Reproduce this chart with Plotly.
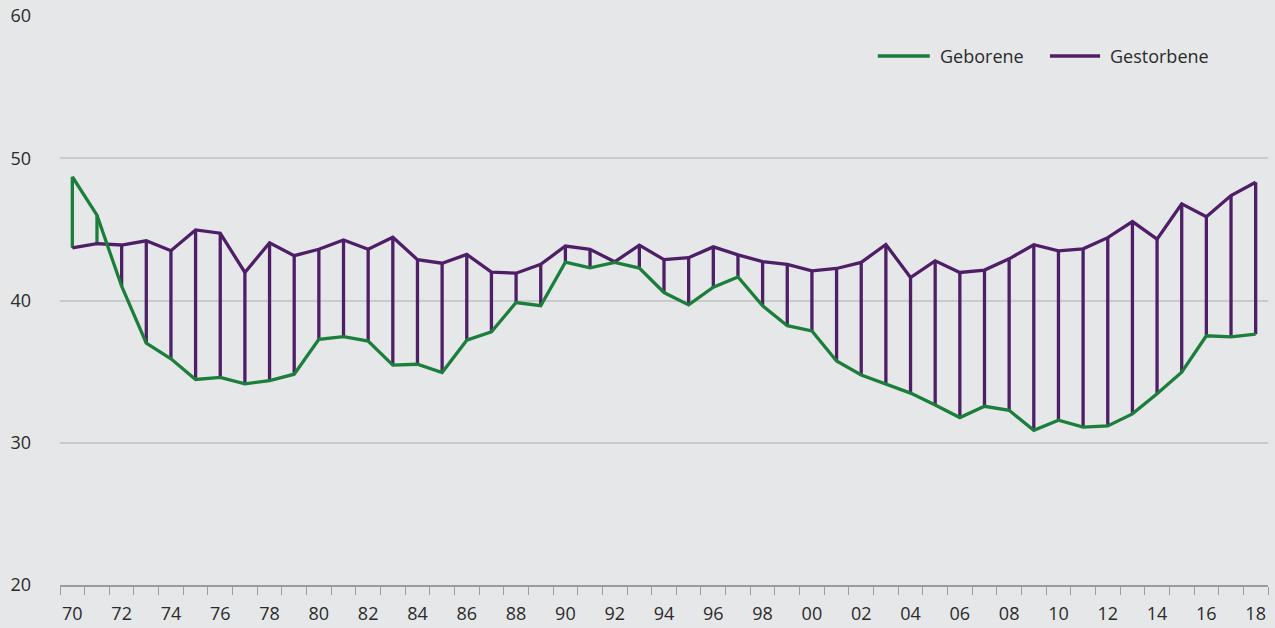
import plotly.graph_objects as go

years = list(range(1970, 2019))
geborene = [48.7, 46.0, 41.0, 37.0, 35.9, 34.45, 34.6, 34.14, 34.37, 34.82,
            37.27, 37.46, 37.15, 35.46, 35.52, 34.93, 37.21, 37.8, 39.86, 39.63,
            42.7, 42.3, 42.68, 42.28, 40.56, 39.69, 40.93, 41.66, 39.63, 38.23,
            37.86, 35.75, 34.76, 34.11, 33.49, 32.65, 31.77, 32.56, 32.28, 30.87,
            31.58, 31.1, 31.18, 32.03, 33.44, 34.96, 37.52, 37.44, 37.63]
gestorbene = [43.7, 44.0, 43.9, 44.2, 43.5, 44.96, 44.73, 41.97, 44.06, 43.15,
              43.6, 44.25, 43.6, 44.45, 42.87, 42.62, 43.24, 42.0, 41.92, 42.54,
              43.83, 43.6, 42.72, 43.89, 42.87, 43.01, 43.77, 43.21, 42.73, 42.54,
              42.08, 42.25, 42.68, 43.94, 41.61, 42.79, 41.97, 42.14, 42.93, 43.92,
              43.49, 43.63, 44.42, 45.55, 44.31, 46.79, 45.89, 47.38, 48.31]
tick_years = list(range(1970, 2019, 2))
tick_labels = [f"{y % 100:02d}" for y in tick_years]
series_names = ["Geborene", "Gestorbene"]

GREEN = "#1b7f3b"
PURPLE = "#4e1e66"
BG = "#e6e7e9"
FONT = "Open Sans, Noto Sans, sans-serif"

fig = go.Figure()

# vertical connectors, coloured by which series is higher
for color, cond in [(PURPLE, lambda b, d: d >= b), (GREEN, lambda b, d: b > d)]:
    xs, ys = [], []
    for y, b, d in zip(years, geborene, gestorbene):
        if cond(b, d):
            xs += [y, y, None]
            ys += [b, d, None]
    fig.add_trace(go.Scatter(x=xs, y=ys, mode="lines", showlegend=False,
                             line=dict(color=color, width=3.3), hoverinfo="skip"))

fig.add_trace(go.Scatter(x=years, y=gestorbene, mode="lines", name=series_names[1],
                         showlegend=False, line=dict(color=PURPLE, width=3.3)))
fig.add_trace(go.Scatter(x=years, y=geborene, mode="lines", name=series_names[0],
                         showlegend=False, line=dict(color=GREEN, width=3.3)))

# manual legend
legend_y = 0.9297
for (x0, x1, xt), name, color in zip([(0.677, 0.720, 0.7265), (0.8195, 0.861, 0.8675)],
                                     series_names, [GREEN, PURPLE]):
    fig.add_shape(type="line", xref="paper", yref="paper", x0=x0, x1=x1,
                  y0=legend_y, y1=legend_y, line=dict(color=color, width=3.5))
    fig.add_annotation(xref="paper", yref="paper", x=xt, y=legend_y, text=name,
                       showarrow=False, xanchor="left", yanchor="middle",
                       font=dict(family=FONT, size=18, color="#2b2b2b"))

fig.update_layout(
    width=1275, height=628,
    paper_bgcolor=BG, plot_bgcolor=BG,
    margin=dict(l=60, r=7, t=16, b=43),
    font=dict(family=FONT, size=18, color="#2b2b2b"),
    showlegend=False,
    xaxis=dict(range=[1969.5, 2018.5], showgrid=False, zeroline=False,
               automargin=False,
               tickmode="array", tickvals=tick_years, ticktext=tick_labels,
               ticks="", ticklabelstandoff=12,
               showline=True, linecolor="#9b9b9b", linewidth=1.5,
               minor=dict(tickmode="linear", tick0=1969.5, dtick=1, ticks="outside",
                          ticklen=8, tickcolor="#9b9b9b", tickwidth=1, showgrid=False)),
    yaxis=dict(range=[20, 60], tickvals=[20, 30, 40, 50, 60], showgrid=True,
               gridcolor="#c9cacc", gridwidth=1.5, zeroline=False, automargin=False,
               ticks="", ticklabelstandoff=28, showline=False),
)

fig.write_html(
    "out.html",
    config={"displayModeBar": False},
    post_script="document.body.style.margin='0';document.body.style.background='#e6e7e9';",
)
